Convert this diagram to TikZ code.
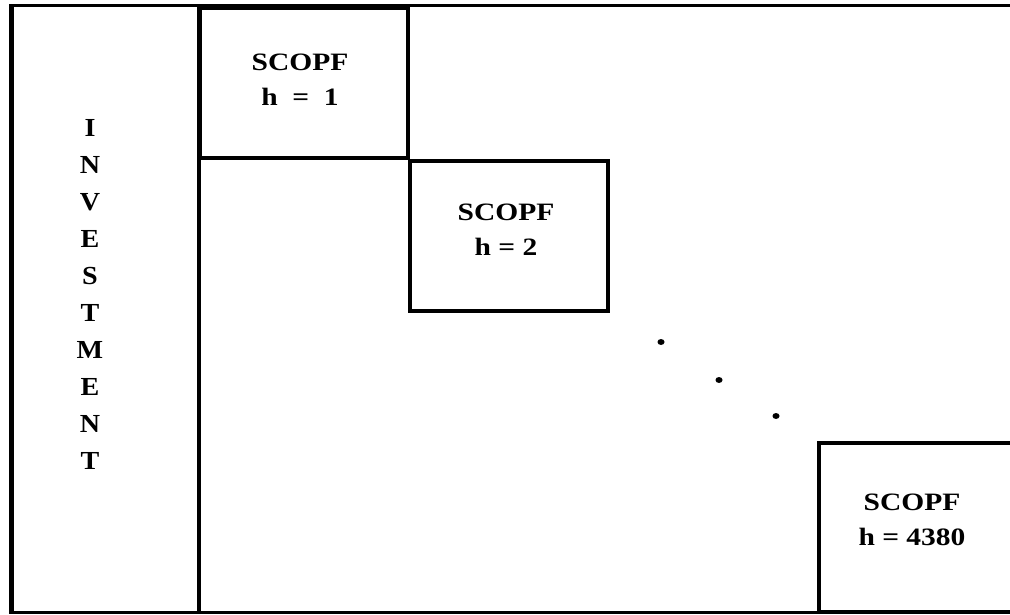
\documentclass[tikz,border=0pt]{standalone}
\usepackage{fontspec}
\usetikzlibrary{shapes.geometric}
\setmainfont{Liberation Serif}
\begin{document}
\begin{tikzpicture}[x=1pt,y=-1pt,
  box/.style={draw, line width=3.5pt, inner sep=0pt},
  lbl/.style={font=\fontsize{25}{35}\selectfont\bfseries, align=center, inner sep=0pt},
  letters/.style={font=\fontsize{26}{37}\selectfont\bfseries, align=center, inner sep=0pt},
  dot/.style={ellipse, fill=black, inner sep=0pt, minimum width=7pt, minimum height=6pt}]
\useasboundingbox (0,0) rectangle (1010,615);
\fill[white] (0,0) rectangle (1010,615);
% outer frame
\draw[line width=3pt] (1014,6) -- (11,6) -- (11,612) -- (1014,612);
\draw[line width=5pt] (11,4.5) -- (11,613.5);
\draw[line width=4pt] (199,6) -- (199,612);
% boxes
\node[box, minimum width=208pt, minimum height=150pt] (b1) at (304,83) {};
\node[box, minimum width=198pt, minimum height=150pt] (b2) at (509,236) {};
\node[box, minimum width=196pt, minimum height=169pt] (b3) at (917,527.5) {};
% labels
\node[lbl] (t1) at (300,80) {\scalebox{1.18}[1]{SCOPF}\\\scalebox{1.18}[1]{h\ \ =\ \ 1}};
\node[lbl] (t2) at (506,230) {\scalebox{1.18}[1]{SCOPF}\\\scalebox{1.18}[1]{h = 2}};
\node[lbl] (t3) at (912,520) {\scalebox{1.18}[1]{SCOPF}\\\scalebox{1.18}[1]{h = 4380}};
\node[letters] (inv) at (90,294) {\scalebox{1.08}[1]{I}\\\scalebox{1.08}[1]{N}\\\scalebox{1.08}[1]{V}\\\scalebox{1.08}[1]{E}\\\scalebox{1.08}[1]{S}\\\scalebox{1.08}[1]{T}\\\scalebox{1.08}[1]{M}\\\scalebox{1.08}[1]{E}\\\scalebox{1.08}[1]{N}\\\scalebox{1.08}[1]{T}};
% dots
\node[dot] (d1) at (661,342) {};
\node[dot] (d2) at (719,380) {};
\node[dot] (d3) at (776,416) {};
\end{tikzpicture}
\end{document}
